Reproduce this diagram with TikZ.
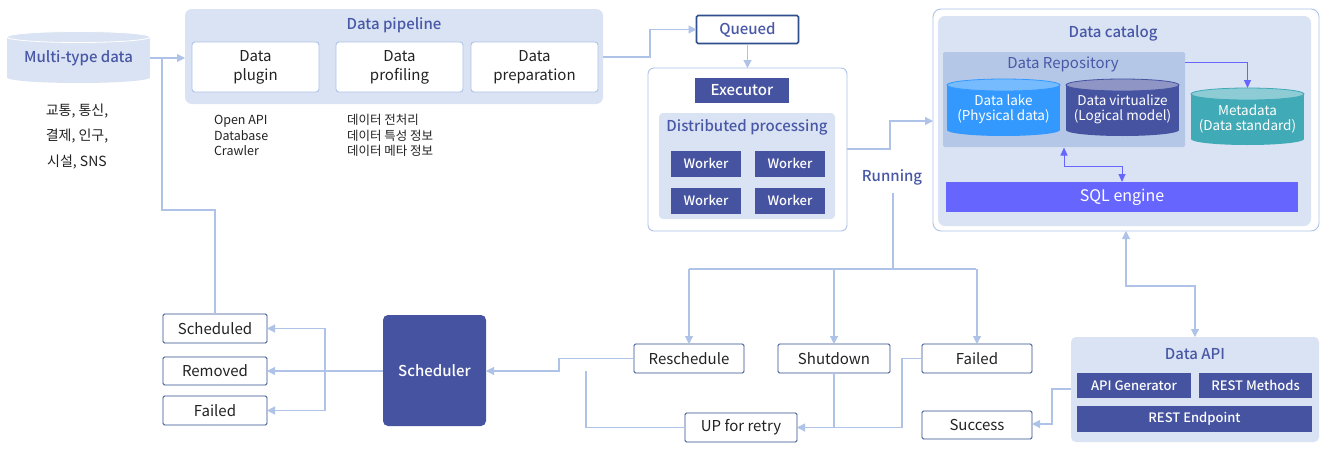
\documentclass[tikz,border=0pt]{standalone}
\usepackage{fontspec}
\setmainfont{Noto Sans CJK KR}[BoldFont={Noto Sans CJK KR Medium}]
\usetikzlibrary{arrows.meta}
\definecolor{lightfill}{HTML}{DAE3F3}
\definecolor{lineblue}{HTML}{AFC3E8}
\definecolor{indigo}{HTML}{4553A0}
\definecolor{titleblue}{HTML}{4858A6}
\definecolor{stateblue}{HTML}{2F4F8F}
\definecolor{repofill}{HTML}{B4C7E7}
\definecolor{sqlcol}{HTML}{6666FF}
\definecolor{lakecol}{HTML}{3399FF}
\definecolor{laketop}{HTML}{77BBFF}
\definecolor{virttop}{HTML}{8F95C5}
\definecolor{metacol}{HTML}{40AAB6}
\definecolor{metatop}{HTML}{8DCCD5}
\definecolor{txt}{HTML}{222222}
\tikzset{
  every node/.style={inner sep=0pt, outer sep=0pt, text=txt},
  fs/.style={font=\fontsize{#1}{#1}\selectfont},
  whitebox/.style={draw=lineblue, line width=0.9pt, fill=white, rounded corners=3pt, fs=15, align=center},
  lightbox/.style={fill=lightfill, rounded corners=7pt},
  darkbox/.style={fill=indigo, text=white, font=\fontsize{13}{13}\selectfont\bfseries},
  statebox/.style={draw=stateblue, line width=0.9pt, fill=white, rounded corners=1.5pt, fs=15},
  ttl/.style={text=titleblue, font=\fontsize{15}{15}\selectfont\bfseries},
  conn/.style={draw=lineblue, line width=1.1pt},
  arr/.style={conn, -{Triangle[width=8pt,length=8pt]}},
  darr/.style={conn, {Triangle[width=8pt,length=8pt]}-{Triangle[width=8pt,length=8pt]}},
  pconn/.style={draw=sqlcol, line width=1pt},
  parr/.style={pconn, -{Triangle[width=7pt,length=8pt]}},
  pdarr/.style={pconn, {Triangle[width=7pt,length=8pt]}-{Triangle[width=7pt,length=8pt]}},
}
% cylinder: cx, rx, ytop(center of top ellipse), ybot(center of bottom ellipse), ry, body, top, rim
\newcommand{\mycyl}[8]{%
  \fill[#6] (#1-#2,#3) rectangle (#1+#2,#4);
  \fill[#6] (#1,#4) ellipse [x radius=#2, y radius=#5];
  \filldraw[fill=#7, draw=#8, line width=0.8pt] (#1,#3) ellipse [x radius=#2, y radius=#5];
}
\begin{document}
\begin{tikzpicture}[x=1pt,y=-1pt]
\useasboundingbox (0,0) rectangle (1331,455);
\fill[white] (0,0) rectangle (1331,455);

% ---------- Multi-type data ----------
\mycyl{78.5}{71.5}{37}{77.5}{5.5}{lightfill}{lightfill}{white}
\node[minimum width=143pt, minimum height=46pt] (mtd) at (78.5,58) {};
\node[ttl] at (78.5,58) {Multi-type data};
\node[fs=14, align=center, font=\fontsize{14}{25.5}\selectfont] (kor) at (77,136.5) {교통, 통신,\\결제, 인구,\\시설, SNS};

% ---------- Data pipeline ----------
\node[lightbox, minimum width=418pt, minimum height=95pt] (pipe) at (394,56.5) {};
\node[ttl] (pipet) at (394,25) {Data pipeline};
\node[whitebox, minimum width=127pt, minimum height=50pt, font=\fontsize{15}{19}\selectfont] (plug) at (255.5,67) {Data\\plugin};
\node[whitebox, minimum width=127pt, minimum height=50pt, font=\fontsize{15}{19}\selectfont] (prof) at (399.5,67) {Data\\profiling};
\node[whitebox, minimum width=127pt, minimum height=50pt, font=\fontsize{15}{19}\selectfont] (prep) at (534.5,67) {Data\\preparation};
\node[anchor=west, align=left, font=\fontsize{12.5}{15.7}\selectfont] (src) at (214,135.5) {Open API\\Database\\Crawler};
\node[anchor=west, align=left, font=\fontsize{12.5}{15.7}\selectfont] (prokr) at (347,135.5) {데이터 전처리\\데이터 특성 정보\\데이터 메타 정보};

% ---------- Queued / Executor ----------
\node[draw=stateblue, line width=1.6pt, fill=white, rounded corners=1.5pt, minimum width=102pt, minimum height=28pt, ttl] (queued) at (747.5,29.5) {Queued};
\node[draw=lineblue, line width=0.9pt, fill=white, rounded corners=6pt, minimum width=199pt, minimum height=163pt] (exec) at (747.5,149.5) {};
\node[fill=indigo, text=white, font=\fontsize{15}{15}\selectfont\bfseries, minimum width=94pt, minimum height=25pt] (execl) at (742,90.5) {Executor};
\node[fill=lightfill, rounded corners=4pt, minimum width=176pt, minimum height=106pt] (dist) at (747,166) {};
\node[ttl] (distt) at (747,127) {Distributed processing};
\node[darkbox, minimum width=70pt, minimum height=26pt] (w1) at (706,163.5) {Worker};
\node[darkbox, minimum width=70pt, minimum height=26pt] (w2) at (790,163.5) {Worker};
\node[darkbox, minimum width=70pt, minimum height=26pt] (w3) at (706,200.5) {Worker};
\node[darkbox, minimum width=70pt, minimum height=26pt] (w4) at (790,200.5) {Worker};
\node[ttl] (running) at (892,177) {Running};

% ---------- Data catalog ----------
\node[draw=lineblue, line width=0.9pt, fill=white, rounded corners=8pt, minimum width=386pt, minimum height=222pt] (cat) at (1126,120) {};
\node[lightbox, minimum width=373pt, minimum height=210pt] (catin) at (1124.5,121) {};
\node[ttl] (catt) at (1113,33) {Data catalog};
\node[fill=repofill, rounded corners=2pt, minimum width=242pt, minimum height=95pt] (repo) at (1064,99.5) {};
\node[text=titleblue, fs=15] (repot) at (1063,64) {Data Repository};
\mycyl{1003.5}{56.5}{85}{130}{6}{lakecol}{laketop}{lakecol}
\node[minimum width=113pt, minimum height=57pt] (lake) at (1003.5,108) {};
\node[text=white, align=center, font=\fontsize{13.5}{15}\selectfont] at (1003.5,109.5) {Data lake\\(Physical data)};
\mycyl{1122.5}{56.5}{85}{130}{6}{indigo}{virttop}{indigo}
\node[minimum width=113pt, minimum height=57pt] (virt) at (1122.5,108) {};
\node[text=white, align=center, font=\fontsize{13.5}{15}\selectfont] at (1122.5,109.5) {Data virtualize\\(Logical model)};
\mycyl{1247.5}{56.5}{94}{139}{6}{metacol}{metatop}{metacol}
\node[minimum width=113pt, minimum height=57pt] (meta) at (1247.5,116.5) {};
\node[text=white, align=center, font=\fontsize{13.5}{15}\selectfont] at (1247.5,118.5) {Metadata\\(Data standard)};
\node[fill=sqlcol, text=white, fs=16, minimum width=352pt, minimum height=30pt] (sql) at (1122,197) {SQL engine};

% ---------- Data API ----------
\node[fill=lightfill, rounded corners=5pt, minimum width=248pt, minimum height=105pt] (api) at (1195,389.5) {};
\node[ttl] (apit) at (1195,354) {Data API};
\node[darkbox, minimum width=114pt, minimum height=25pt] (apigen) at (1134,385.5) {API Generator};
\node[darkbox, minimum width=113pt, minimum height=25pt] (rest) at (1255.5,385.5) {REST Methods};
\node[darkbox, minimum width=235pt, minimum height=26pt] (endp) at (1194.5,419) {REST Endpoint};

% ---------- States ----------
\node[statebox, minimum width=104pt, minimum height=29pt] (sched) at (215,328.5) {Scheduled};
\node[statebox, minimum width=104pt, minimum height=28pt] (removed) at (215,371) {Removed};
\node[statebox, minimum width=104pt, minimum height=29pt] (failedl) at (215,410.5) {Failed};
\node[fill=indigo, rounded corners=5pt, text=white, font=\fontsize{15}{15}\selectfont\bfseries, minimum width=103pt, minimum height=111pt] (scheduler) at (434.5,370.5) {Scheduler};
\node[statebox, minimum width=110pt, minimum height=29pt] (resched) at (689,358.5) {Reschedule};
\node[statebox, minimum width=112pt, minimum height=29pt] (shut) at (834,358.5) {Shutdown};
\node[statebox, minimum width=110pt, minimum height=29pt] (failedr) at (977,358.5) {Failed};
\node[statebox, minimum width=112pt, minimum height=29pt] (retry) at (741,427.5) {UP for retry};
\node[statebox, minimum width=110pt, minimum height=28pt] (success) at (977,425) {Success};

% ---------- Connectors ----------
\draw[arr] (mtd.east |- 0,58) -- (pipe.west |- 0,58);
\draw[conn] (sched.north) -- (215,210) -- (162,210) -- (162,58);
\draw[arr] (pipe.east |- 0,57) -- (650,57) -- (650,29.5) -- (queued.west);
\draw[arr] (queued.south) -- (exec.north -| queued.south);
\draw[arr] (exec.east |- 0,149) -- (890,149) -- (890,121) -- (cat.west |- 0,121);
\coordinate (rtop) at (893,193);
\draw[conn] (rtop) -- (893,269);
\draw[conn] (689,269) -- (976,269);
\draw[arr] (689,269) -- (resched.north);
\draw[arr] (834,269) -- (shut.north);
\draw[arr] (977,269) -- (failedr.north);
\draw[arr] (resched.west) -- (559,358.5) -- (559,371) -- (scheduler.east |- 0,371);
\draw[conn] (retry.west) -- (586,427.5) -- (586,371);
\draw[arr] (shut.south) -- (834,427.5) -- (retry.east);
\draw[conn] (failedr.west) -- (902,358.5) -- (902,427.5) -- (834,427.5);
\draw[arr] (scheduler.west |- 0,371) -- (removed.east);
\draw[arr] (325,371) -- (325,328.5) -- (sched.east);
\draw[arr] (325,371) -- (325,410.5) -- (failedl.east);
\draw[darr] (cat.south -| 1126,0) -- (1126,286) -- (1195,286) -- (api.north);
\draw[arr] (api.west |- 0,389) -- (1052,389) -- (1052,424) -- (success.east |- 0,424);
\draw[parr] (repo.east |- 0,62) -- (1247.5,62) -- (1247.5,88);
\draw[pdarr] (1064,147.5) -- (1064,166) -- (1122,166) -- (sql.north);
\end{tikzpicture}
\end{document}
